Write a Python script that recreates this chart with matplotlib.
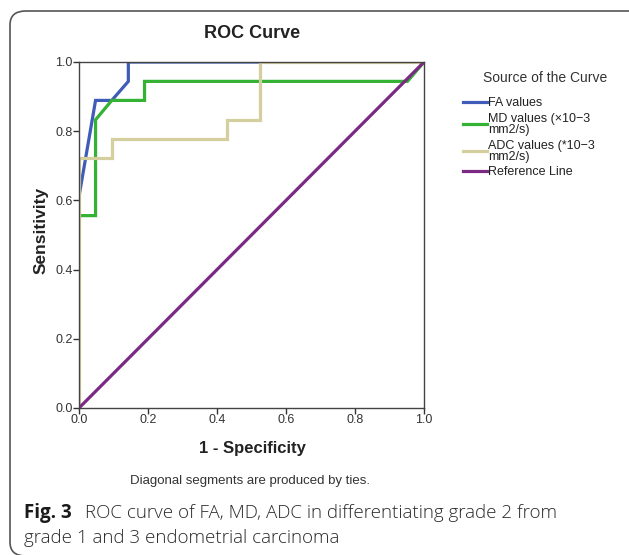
import numpy as np
import matplotlib.pyplot as plt
from matplotlib.patches import FancyBboxPatch

# ROC points (1 - specificity, sensitivity)
fa_fpr = [0.0, 0.0, 0.048, 0.095, 0.143, 0.143, 1.0]
fa_tpr = [0.0, 0.611, 0.889, 0.889, 0.944, 1.0, 1.0]

md_fpr = [0.0, 0.0, 0.048, 0.048, 0.095, 0.190, 0.190, 0.952, 1.0]
md_tpr = [0.0, 0.556, 0.556, 0.833, 0.889, 0.889, 0.944, 0.944, 1.0]

adc_fpr = [0.0, 0.0, 0.095, 0.095, 0.429, 0.429, 0.524, 0.524, 1.0]
adc_tpr = [0.0, 0.722, 0.722, 0.778, 0.778, 0.833, 0.833, 1.0, 1.0]

ref_fpr = [0.0, 1.0]
ref_tpr = [0.0, 1.0]

labels = ["FA values", "MD values (\u00d710\u22123\nmm2/s)",
          "ADC values (*10\u22123\nmm2/s)", "Reference Line"]
colors = ["#3E5CB8", "#33B233", "#D5CE9F", "#7B2A84"]
ticks = [0.0, 0.2, 0.4, 0.6, 0.8, 1.0]

W, H = 629, 555
fig = plt.figure(figsize=(W / 100, H / 100), dpi=100)
plt.rcParams['font.family'] = ['Liberation Sans', 'DejaVu Sans']

# rounded frame round the whole figure (right and bottom edges run off the picture)
frame = FancyBboxPatch((10 / W, -1 / H), 640 / W, 545 / H,
                       boxstyle="round,pad=0,rounding_size=0.025",
                       transform=fig.transFigure, fill=False,
                       edgecolor="#555555", linewidth=1.2, clip_on=False)
fig.patches.append(frame)

ax = fig.add_axes([79 / W, 1 - 408 / H, 345 / W, 346 / H])
series = [(fa_fpr, fa_tpr), (md_fpr, md_tpr), (adc_fpr, adc_tpr), (ref_fpr, ref_tpr)]
for (x, y), lab, c in zip(series, labels, colors):
    ax.plot(x, y, color=c, linewidth=2.3, label=lab, solid_joinstyle='miter')

ax.set_xlim(0, 1)
ax.set_ylim(0, 1)
ax.set_xticks(ticks)
ax.set_yticks(ticks)
ax.set_xticklabels([f"{t:.1f}" for t in ticks])
ax.set_yticklabels([f"{t:.1f}" for t in ticks])
ax.tick_params(direction='out', length=4, width=1, labelsize=9, pad=0.5, colors="#333333")
for s in ax.spines.values():
    s.set_color("#444444")
    s.set_linewidth(1.0)

fig.text(252 / W, 1 - 33 / H, "ROC Curve", ha='center', va='center',
         fontsize=13, fontweight='bold', color="#222222")
fig.text(252 / W, 1 - 449 / H, "1 - Specificity", ha='center', va='center',
         fontsize=12, fontweight='bold', color="#222222")
fig.text(41 / W, 1 - 230 / H, "Sensitivity", ha='center', va='center',
         rotation=90, fontsize=12.5, fontweight='bold', color="#222222")
fig.text(250 / W, 1 - 481 / H, "Diagonal segments are produced by ties.",
         ha='center', va='center', fontsize=9.5, color="#333333")

fig.text(483 / W, 1 - 78 / H, "Source of the Curve", ha='left', va='center',
         fontsize=10, color="#333333")
leg = ax.legend(loc='upper left', bbox_to_anchor=(463 / W, 1 - 97 / H),
                bbox_transform=fig.transFigure, frameon=False, fontsize=9,
                handlelength=1.9, handletextpad=0.1, labelspacing=0.3,
                borderpad=0, borderaxespad=0)
for t in leg.get_texts():
    t.set_linespacing(0.9)
    t.set_color("#222222")

# caption
cap = ['Open Sans', 'DejaVu Sans']
fig.text(24 / W, 1 - 513 / H, "Fig. 3", ha='left', va='center', fontsize=13.5,
         fontweight='bold', family=cap, color="#1a1a1a")
fig.text(85 / W, 1 - 513 / H,
         "ROC curve of FA, MD, ADC in differentiating grade 2 from",
         ha='left', va='center', fontsize=13.5, fontweight='light', family=cap,
         color="#2a2a2a")
fig.text(24 / W, 1 - 538 / H, "grade 1 and 3 endometrial carcinoma",
         ha='left', va='center', fontsize=13.5, fontweight='light', family=cap,
         color="#2a2a2a")

fig.savefig("out.png", dpi=100)
